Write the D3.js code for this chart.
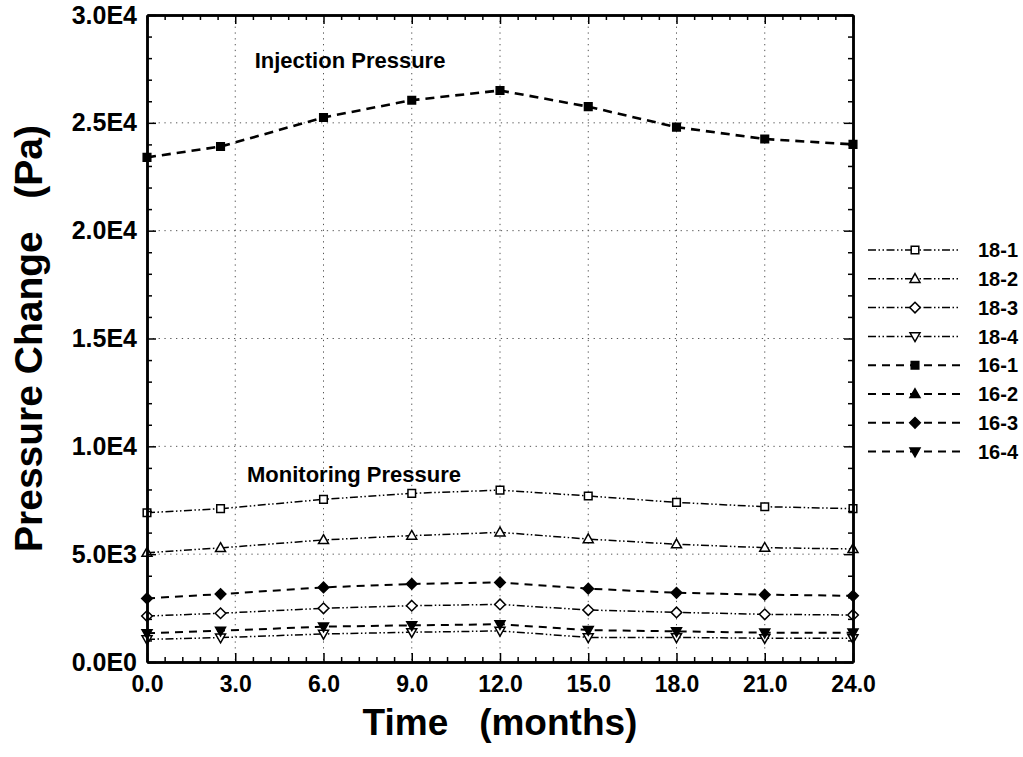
<!DOCTYPE html>
<html>
<head>
<meta charset="utf-8">
<script src="https://cdn.jsdelivr.net/npm/d3@7"></script>
<style>
  html, body { margin: 0; padding: 0; background: #fff; }
  svg { display: block; font-family: "Liberation Sans", Arial, sans-serif; }
  text { white-space: pre; }
</style>
</head>
<body>
<svg id="chart" width="1023" height="757"></svg>
<script>
// ---- data ----
const months = [0, 2.5, 6, 9, 12, 15, 18, 21, 24];
const s18_1 = [6920, 7110, 7540, 7820, 7970, 7700, 7400, 7200, 7110];
const s18_2 = [5070, 5290, 5660, 5860, 6010, 5700, 5460, 5300, 5240];
const s18_3 = [2130, 2260, 2490, 2610, 2670, 2410, 2300, 2210, 2180];
const s18_4 = [1050, 1130, 1300, 1380, 1440, 1140, 1140, 1100, 1100];
const s16_1 = [23400, 23900, 25250, 26050, 26500, 25750, 24800, 24250, 24000];
const s16_2 = []; // not distinguishable in the picture
const s16_3 = [2950, 3150, 3460, 3620, 3690, 3400, 3210, 3120, 3070];
const s16_4 = [1330, 1450, 1640, 1700, 1750, 1480, 1420, 1360, 1360];
const seriesNames = ["18-1", "18-2", "18-3", "18-4", "16-1", "16-2", "16-3", "16-4"];
const seriesValues = [s18_1, s18_2, s18_3, s18_4, s16_1, s16_2, s16_3, s16_4];
const seriesMarkers = ["square", "triangle", "diamond", "triangleDown", "square", "triangle", "diamond", "triangleDown"];
const seriesFilled = [false, false, false, false, true, true, true, true];
const xTickValues = [0, 3, 6, 9, 12, 15, 18, 21, 24];
const xTickLabels = ["0.0", "3.0", "6.0", "9.0", "12.0", "15.0", "18.0", "21.0", "24.0"];
const yTickValues = [0, 5000, 10000, 15000, 20000, 25000, 30000];
const yTickLabels = ["0.0E0", "5.0E3", "1.0E4", "1.5E4", "2.0E4", "2.5E4", "3.0E4"];
const annotations = [
  { text: "Injection Pressure", x: 3.66, y: 27550 },
  { text: "Monitoring Pressure", x: 3.4, y: 8350 }
];

// ---- layout ----
const L = 147, R = 853, T = 15, B = 662;
const svg = d3.select("#chart");
const x = d3.scaleLinear().domain([0, 24]).range([L, R]);
const y = d3.scaleLinear().domain([0, 30000]).range([B, T]);

// grid
const grid = svg.append("g").attr("stroke", "#555").attr("stroke-width", 1).attr("stroke-dasharray", "1.3,4.5");
grid.selectAll("line.v").data(xTickValues.slice(1, -1)).join("line")
  .attr("x1", d => x(d)).attr("x2", d => x(d)).attr("y1", T).attr("y2", B);
grid.selectAll("line.h").data(yTickValues.slice(1, -1)).join("line")
  .attr("x1", L).attr("x2", R).attr("y1", d => y(d)).attr("y2", d => y(d));

// marker path generator
function markerPath(type, cx, cy) {
  const p = d3.path();
  if (type === "square") {
    const s = 3.8; p.rect(cx - s, cy - s, 2 * s, 2 * s);
  } else if (type === "triangle") {
    p.moveTo(cx, cy - 5.2); p.lineTo(cx + 5, cy + 3.6); p.lineTo(cx - 5, cy + 3.6); p.closePath();
  } else if (type === "triangleDown") {
    p.moveTo(cx, cy + 5.2); p.lineTo(cx + 5, cy - 3.6); p.lineTo(cx - 5, cy - 3.6); p.closePath();
  } else if (type === "diamond") {
    const s = 5.3; p.moveTo(cx, cy - s); p.lineTo(cx + s, cy); p.lineTo(cx, cy + s); p.lineTo(cx - s, cy); p.closePath();
  }
  return p.toString();
}
const dashDotDot = "8,2.5,1.5,2.5,1.5,2.5";
const dashed = "8,6";

const line = d3.line().x(d => x(d[0])).y(d => y(d[1]));
const plot = svg.append("g");
seriesValues.forEach((vals, i) => {
  if (!vals.length) return;
  const pts = vals.map((v, j) => [months[j], v]);
  const is16 = seriesFilled[i];
  plot.append("path").datum(pts).attr("d", line)
    .attr("fill", "none").attr("stroke", "#000")
    .attr("stroke-width", i === 4 ? 2.6 : (is16 ? 2 : 1.5))
    .attr("stroke-dasharray", is16 ? (i === 4 ? "9,6" : dashed) : dashDotDot);
});
seriesValues.forEach((vals, i) => {
  if (!vals.length) return;
  plot.append("g").selectAll("path").data(vals).join("path")
    .attr("d", (v, j) => markerPath(seriesMarkers[i], x(months[j]), y(v)))
    .attr("fill", seriesFilled[i] ? "#000" : "#fff")
    .attr("stroke", "#000").attr("stroke-width", 1.5);
});

// axes
function styleAxis(g) {
  g.select(".domain").attr("stroke", "#000").attr("stroke-width", 2.5);
  g.selectAll(".tick line").attr("stroke", "#000").attr("stroke-width", 1.5);
}
const minorX = d3.range(0, 24.001, 0.6).filter(v => Math.abs(v / 3 - Math.round(v / 3)) > 1e-6);
const minorY = d3.range(0, 30001, 1000).filter(v => v % 5000 !== 0);

svg.append("g").attr("transform", `translate(0,${B})`)
  .call(d3.axisBottom(x).tickValues(minorX).tickSize(-5).tickSizeOuter(0).tickFormat(""))
  .call(styleAxis);
svg.append("g").attr("transform", `translate(0,${T})`)
  .call(d3.axisTop(x).tickValues(minorX).tickSize(-5).tickSizeOuter(0).tickFormat(""))
  .call(styleAxis);
svg.append("g").attr("transform", `translate(${L},0)`)
  .call(d3.axisLeft(y).tickValues(minorY).tickSize(-5).tickSizeOuter(0).tickFormat(""))
  .call(styleAxis);
svg.append("g").attr("transform", `translate(${R},0)`)
  .call(d3.axisRight(y).tickValues(minorY).tickSize(-5).tickSizeOuter(0).tickFormat(""))
  .call(styleAxis);

const xAx = svg.append("g").attr("transform", `translate(0,${B})`)
  .call(d3.axisBottom(x).tickValues(xTickValues).tickSize(-9).tickSizeOuter(0).tickPadding(14)
    .tickFormat((d, i) => xTickLabels[i]))
  .call(styleAxis);
xAx.selectAll("text").attr("font-size", 23).attr("font-weight", "bold").attr("fill", "#000")
  .attr("font-family", "Liberation Sans, Arial, sans-serif");
svg.append("g").attr("transform", `translate(0,${T})`)
  .call(d3.axisTop(x).tickValues(xTickValues).tickSize(-9).tickSizeOuter(0).tickFormat(""))
  .call(styleAxis);
const yAx = svg.append("g").attr("transform", `translate(${L},0)`)
  .call(d3.axisLeft(y).tickValues(yTickValues).tickSize(-9).tickSizeOuter(0).tickPadding(10)
    .tickFormat((d, i) => yTickLabels[i]))
  .call(styleAxis);
yAx.selectAll("text").attr("font-size", 25).attr("font-weight", "bold").attr("fill", "#000")
  .attr("font-family", "Liberation Sans, Arial, sans-serif");
svg.append("g").attr("transform", `translate(${R},0)`)
  .call(d3.axisRight(y).tickValues(yTickValues).tickSize(-9).tickSizeOuter(0).tickFormat(""))
  .call(styleAxis);

// axis titles
svg.append("text").attr("x", (L + R) / 2).attr("y", 735).attr("text-anchor", "middle")
  .attr("font-size", 37).attr("font-weight", "bold").text("Time   (months)");
svg.append("text").attr("transform", `translate(42,${(T + B) / 2}) rotate(-90)`).attr("text-anchor", "middle")
  .attr("font-size", 39).attr("font-weight", "bold").text("Pressure Change   (Pa)");

// annotations
svg.append("g").selectAll("text").data(annotations).join("text")
  .attr("x", d => x(d.x)).attr("y", d => y(d.y))
  .attr("font-size", 22).attr("font-weight", "bold").text(d => d.text);

// legend
const lg = svg.append("g");
seriesNames.forEach((name, i) => {
  const cy = 250 + i * 28.8;
  const is16 = seriesFilled[i];
  lg.append("line").attr("x1", 868).attr("x2", 960).attr("y1", cy).attr("y2", cy)
    .attr("stroke", "#000").attr("stroke-width", is16 ? 2 : 1.5)
    .attr("stroke-dasharray", is16 ? dashed : dashDotDot);
  lg.append("path").attr("d", markerPath(seriesMarkers[i], 915, cy))
    .attr("fill", is16 ? "#000" : "#fff").attr("stroke", "#000").attr("stroke-width", 1.5);
  lg.append("text").attr("x", 978).attr("y", cy).attr("dy", "0.36em")
    .attr("font-size", 20).attr("font-weight", "bold").text(name);
});
</script>
</body>
</html>
